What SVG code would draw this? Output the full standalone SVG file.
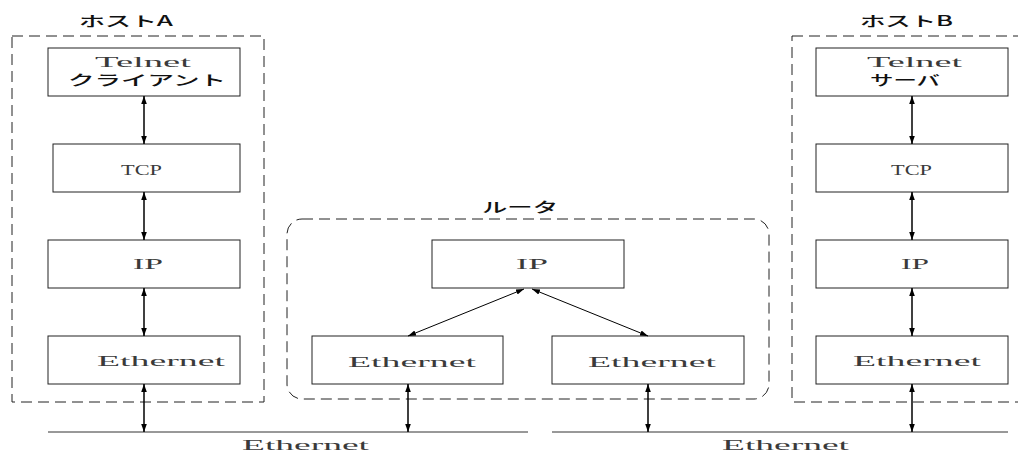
<svg xmlns="http://www.w3.org/2000/svg" width="1018" height="452" viewBox="0 0 1018 452">
  <defs>
    <marker id="head" viewBox="0 0 10 10" refX="10" refY="5" markerUnits="userSpaceOnUse" markerWidth="8" markerHeight="8" orient="auto-start-reverse">
      <path d="M0,1.5 L10,5 L0,8.5 z" fill="#000"/>
    </marker>
  </defs>
  <style>
    .box { fill: #fff; stroke: #222; stroke-width: 1; }
    .frame { fill: none; stroke: #222; stroke-width: 1; stroke-dasharray: 11 6; }
    .mono { font-family: "Liberation Serif", "Times New Roman", serif; font-size: 14px; fill: #3a3a3a; }
    .jp { font-family: "Noto Sans CJK JP", "Noto Sans", sans-serif; font-size: 14px; font-weight: 500; fill: #111; }
    .lbl { font-family: "Noto Sans CJK JP", "Noto Sans", sans-serif; font-size: 14px; font-weight: 500; fill: #111; }
    .link { stroke: #000; stroke-width: 1.5; fill: none; marker-start: url(#head); marker-end: url(#head); }
    .diag { stroke: #000; stroke-width: 1; fill: none; marker-start: url(#head); marker-end: url(#head); }
    .wire { stroke: #333; stroke-width: 1; }
  </style>

  <!-- host A -->
  <g id="hostA">
    <rect class="frame" x="12" y="36" width="252" height="366"/>
    <text class="lbl" x="79" y="26" textLength="94" lengthAdjust="spacingAndGlyphs">ホストA</text>
  </g>
  <g id="hostA-telnet">
    <rect class="box" x="48" y="48" width="192" height="48"/>
    <text class="mono" x="95" y="67" textLength="96" lengthAdjust="spacingAndGlyphs">Telnet</text>
    <text class="jp" x="68" y="85" textLength="158" lengthAdjust="spacingAndGlyphs">クライアント</text>
  </g>
  <g id="hostA-tcp">
    <rect class="box" x="53" y="144" width="187" height="48"/>
    <text class="mono" x="121" y="175" textLength="41" lengthAdjust="spacingAndGlyphs">TCP</text>
  </g>
  <g id="hostA-ip">
    <rect class="box" x="48" y="240" width="192" height="48"/>
    <text class="mono" x="133" y="269" textLength="30" lengthAdjust="spacingAndGlyphs">IP</text>
  </g>
  <g id="hostA-ether">
    <rect class="box" x="48" y="336" width="192" height="48"/>
    <text class="mono" x="97" y="366" textLength="128" lengthAdjust="spacingAndGlyphs">Ethernet</text>
  </g>

  <!-- router -->
  <g id="router">
    <rect class="frame" x="287" y="219" width="482" height="180" rx="15" ry="15"/>
    <text class="lbl" x="482" y="212" textLength="76" lengthAdjust="spacingAndGlyphs">ルータ</text>
  </g>
  <g id="router-ip">
    <rect class="box" x="432" y="240" width="192" height="48"/>
    <text class="mono" x="516" y="269" textLength="32" lengthAdjust="spacingAndGlyphs">IP</text>
  </g>
  <g id="router-ether1">
    <rect class="box" x="312" y="336" width="191" height="48"/>
    <text class="mono" x="348" y="367" textLength="128" lengthAdjust="spacingAndGlyphs">Ethernet</text>
  </g>
  <g id="router-ether2">
    <rect class="box" x="552" y="336" width="192" height="48"/>
    <text class="mono" x="588" y="367" textLength="128" lengthAdjust="spacingAndGlyphs">Ethernet</text>
  </g>

  <!-- host B -->
  <g id="hostB">
    <rect class="frame" x="792" y="36" width="240" height="366"/>
    <text class="lbl" x="860" y="26" textLength="93" lengthAdjust="spacingAndGlyphs">ホストB</text>
  </g>
  <g id="hostB-telnet">
    <rect class="box" x="816" y="48" width="192" height="48"/>
    <text class="mono" x="867" y="67" textLength="95" lengthAdjust="spacingAndGlyphs">Telnet</text>
    <text class="jp" x="870" y="85" textLength="70" lengthAdjust="spacingAndGlyphs">サーバ</text>
  </g>
  <g id="hostB-tcp">
    <rect class="box" x="816" y="144" width="192" height="48"/>
    <text class="mono" x="891" y="175" textLength="41" lengthAdjust="spacingAndGlyphs">TCP</text>
  </g>
  <g id="hostB-ip">
    <rect class="box" x="816" y="240" width="192" height="48"/>
    <text class="mono" x="901" y="269" textLength="28" lengthAdjust="spacingAndGlyphs">IP</text>
  </g>
  <g id="hostB-ether">
    <rect class="box" x="816" y="336" width="192" height="48"/>
    <text class="mono" x="853" y="366" textLength="128" lengthAdjust="spacingAndGlyphs">Ethernet</text>
  </g>

  <!-- network segments -->
  <g id="segment-left">
    <line class="wire" x1="48" y1="432" x2="528" y2="432"/>
    <text class="mono" x="242" y="450" textLength="127" lengthAdjust="spacingAndGlyphs">Ethernet</text>
  </g>
  <g id="segment-right">
    <line class="wire" x1="552" y1="432" x2="1008" y2="432"/>
    <text class="mono" x="722" y="450" textLength="127" lengthAdjust="spacingAndGlyphs">Ethernet</text>
  </g>

  <!-- connectors -->
  <g id="connectors">
    <line class="link" x1="144" y1="96" x2="144" y2="144"/>
    <line class="link" x1="144" y1="192" x2="144" y2="240"/>
    <line class="link" x1="144" y1="288" x2="144" y2="336"/>
    <line class="link" x1="144" y1="384" x2="144" y2="432"/>

    <line class="diag" x1="524" y1="289" x2="408" y2="336"/>
    <line class="diag" x1="532" y1="289" x2="648" y2="336"/>
    <line class="link" x1="408" y1="384" x2="408" y2="432"/>
    <line class="link" x1="648" y1="384" x2="648" y2="432"/>

    <line class="link" x1="912" y1="96" x2="912" y2="144"/>
    <line class="link" x1="912" y1="192" x2="912" y2="240"/>
    <line class="link" x1="912" y1="288" x2="912" y2="336"/>
    <line class="link" x1="912" y1="384" x2="912" y2="432"/>
  </g>
</svg>
